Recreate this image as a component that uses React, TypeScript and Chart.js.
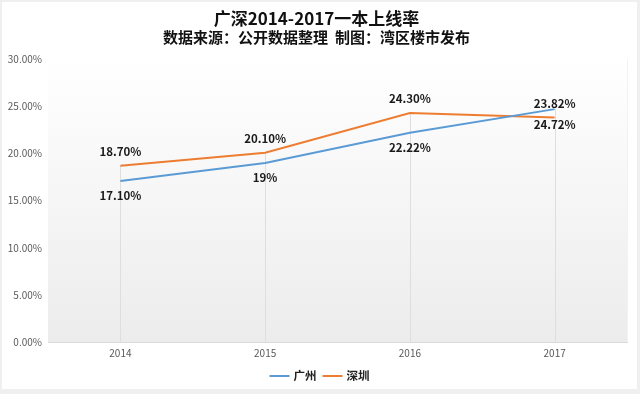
import React, { useEffect, useRef } from "react";
import { Chart, registerables } from "chart.js";

Chart.register(...registerables);

const categories = ["2014", "2015", "2016", "2017"];
const guangzhou = [17.1, 19, 22.22, 24.72];
const shenzhen = [18.7, 20.1, 24.3, 23.82];
const guangzhouLabels = ["17.10%", "19%", "22.22%", "24.72%"];
const shenzhenLabels = ["18.70%", "20.10%", "24.30%", "23.82%"];
const seriesNames = ["广州", "深圳"];
const seriesColors = ["#5B9BD5", "#ED7D31"];
const titleText = "广深2014-2017一本上线率";
const subtitleText = "数据来源：公开数据整理  制图：湾区楼市发布";

const FONT = "'Noto Sans CJK SC', 'Noto Sans', sans-serif";

const bgPlugin = {
  id: "bgGradient",
  beforeDraw(chart: any) {
    const { ctx, chartArea } = chart;
    if (!chartArea) return;
    const g = ctx.createLinearGradient(0, chartArea.top, 0, chartArea.bottom);
    g.addColorStop(0, "#ffffff");
    g.addColorStop(1, "#ececec");
    ctx.save();
    ctx.fillStyle = g;
    ctx.fillRect(chartArea.left, chartArea.top, chartArea.right - chartArea.left, chartArea.bottom - chartArea.top);
    ctx.strokeStyle = "#f2f2f2";
    ctx.lineWidth = 1;
    ctx.beginPath();
    ctx.moveTo(chartArea.right + 0.5, chartArea.top);
    ctx.lineTo(chartArea.right + 0.5, chartArea.bottom);
    ctx.stroke();
    ctx.restore();
  },
};

const dropLinePlugin = {
  id: "dropLines",
  beforeDatasetsDraw(chart: any) {
    const { ctx, chartArea } = chart;
    const m0 = chart.getDatasetMeta(0);
    const m1 = chart.getDatasetMeta(1);
    ctx.save();
    ctx.strokeStyle = "#dedede";
    ctx.lineWidth = 1;
    for (let i = 0; i < categories.length; i++) {
      const p0 = m0.data[i];
      const p1 = m1.data[i];
      const top = Math.min(p0.y, p1.y);
      const x = Math.round(p0.x) + 0.5;
      ctx.beginPath();
      ctx.moveTo(x, top);
      ctx.lineTo(x, chartArea.bottom);
      ctx.stroke();
    }
    ctx.restore();
  },
};

const labelPlugin = {
  id: "dataLabels",
  afterDatasetsDraw(chart: any) {
    const { ctx } = chart;
    ctx.save();
    ctx.font = `bold 11.5px ${FONT}`;
    ctx.fillStyle = "#1a1a1a";
    ctx.textAlign = "center";
    ctx.textBaseline = "middle";
    const m0 = chart.getDatasetMeta(0);
    const m1 = chart.getDatasetMeta(1);
    for (let i = 0; i < categories.length; i++) {
      const p0 = m0.data[i];
      ctx.fillText(guangzhouLabels[i], p0.x, p0.y + 15);
      const p1 = m1.data[i];
      ctx.fillText(shenzhenLabels[i], p1.x, p1.y - 14);
    }
    ctx.restore();
  },
};

const legendPlugin = {
  id: "customLegend",
  afterDraw(chart: any) {
    const { ctx } = chart;
    ctx.save();
    ctx.font = `bold 11.5px ${FONT}`;
    ctx.textBaseline = "middle";
    ctx.textAlign = "left";
    const lineLen = 20;
    const gap = 4;
    const itemGap = 6;
    const widths = seriesNames.map((n) => lineLen + gap + ctx.measureText(n).width);
    const total = widths.reduce((a, b) => a + b, 0) + itemGap * (seriesNames.length - 1);
    let x = chart.width / 2 - total / 2;
    const y = chart.height - 13;
    seriesNames.forEach((n, i) => {
      ctx.strokeStyle = seriesColors[i];
      ctx.lineWidth = 2;
      ctx.beginPath();
      ctx.moveTo(x, y);
      ctx.lineTo(x + lineLen, y);
      ctx.stroke();
      ctx.fillStyle = "#222";
      ctx.fillText(n, x + lineLen + gap, y);
      x += widths[i] + itemGap;
    });
    ctx.restore();
  },
};

export default function App() {
  const ref = useRef<HTMLCanvasElement>(null);
  useEffect(() => {
    if (!ref.current) return;
    const chart = new Chart(ref.current, {
      type: "line",
      data: {
        labels: categories,
        datasets: [
          {
            label: seriesNames[0],
            data: guangzhou,
            borderColor: seriesColors[0],
            backgroundColor: seriesColors[0],
            borderWidth: 2,
            pointRadius: 0,
            tension: 0,
          },
          {
            label: seriesNames[1],
            data: shenzhen,
            borderColor: seriesColors[1],
            backgroundColor: seriesColors[1],
            borderWidth: 2,
            pointRadius: 0,
            tension: 0,
          },
        ],
      },
      options: {
        animation: false,
        responsive: false,
        layout: { padding: { left: 4, right: 10, top: 6, bottom: 25 } },
        plugins: {
          title: {
            display: true,
            text: titleText,
            color: "#111",
            font: { family: FONT, size: 17, weight: "bold" },
            padding: { top: 0, bottom: 0 },
          },
          subtitle: {
            display: true,
            text: subtitleText,
            color: "#111",
            font: { family: FONT, size: 15, weight: "bold" },
            padding: { top: 0, bottom: 13 },
          },
          legend: { display: false },
          tooltip: { enabled: false },
        },
        scales: {
          x: {
            offset: true,
            grid: { display: false, drawTicks: false },
            border: { display: true, color: "#d9d9d9" },
            ticks: { color: "#595959", font: { family: FONT, size: 10 }, padding: 5 },
          },
          y: {
            min: 0,
            max: 30,
            afterFit(scale: any) {
              scale.width = 42;
            },
            grid: { display: false, drawTicks: false },
            border: { display: false },
            ticks: {
              stepSize: 5,
              color: "#595959",
              font: { family: FONT, size: 10 },
              padding: 6,
              callback: (v: any) => Number(v).toFixed(2) + "%",
            },
          },
        },
      },
      plugins: [bgPlugin, dropLinePlugin, labelPlugin, legendPlugin],
    });
    return () => chart.destroy();
  }, []);
  return (
    <div style={{ position: "absolute", left: 0, top: 0, width: 640, height: 394, background: "#efefef" }}>
      <div style={{ position: "absolute", left: 2, top: 2, width: 635, height: 387, background: "#fff" }}>
        <canvas ref={ref} width={635} height={387} />
      </div>
    </div>
  );
}
